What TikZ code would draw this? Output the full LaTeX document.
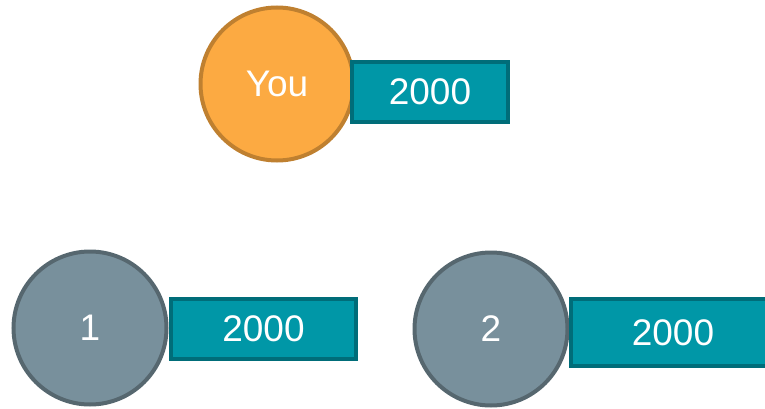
\documentclass[tikz,border=0pt]{standalone}
\usepackage{fontspec}
\setmainfont{Liberation Sans}
\usepackage{xcolor}
\definecolor{orfill}{HTML}{FCAA42}
\definecolor{ordraw}{HTML}{BF8030}
\definecolor{grfill}{HTML}{78909C}
\definecolor{grdraw}{HTML}{56676F}
\definecolor{tefill}{HTML}{0097A7}
\definecolor{tedraw}{HTML}{006D79}
\tikzset{
    CY/.style ={circle,minimum size = 153pt, inner sep=0pt, line width=4pt, draw=ordraw, fill=orfill},
    CG/.style ={circle,minimum size = 153pt, inner sep=0pt, line width=4pt, draw=grdraw, fill=grfill},
    RT/.style ={rectangle,inner sep=0pt, line width=4pt, draw=tedraw, fill=tefill},
    every node/.append style={text=white, font=\fontsize{37}{40}\selectfont}
}
\begin{document}
\begin{tikzpicture}[x=1pt,y=-1pt]
        \useasboundingbox (0,0) rectangle (765,409);
        \node[CY] (you) at (277,84) {You};
        \node[CG] (one) at (90,328) {1};
        \node[CG] (two) at (491,329) {2};
        \node[RT,minimum width=156pt,minimum height=60pt] (youval) at (430,92) {2000};
        \node[RT,minimum width=185pt,minimum height=60pt] (oneval) at (263.5,329) {2000};
        \node[RT,minimum width=204pt,minimum height=67pt] (twoval) at (673,332.5) {2000};
    \end{tikzpicture}
\end{document}
